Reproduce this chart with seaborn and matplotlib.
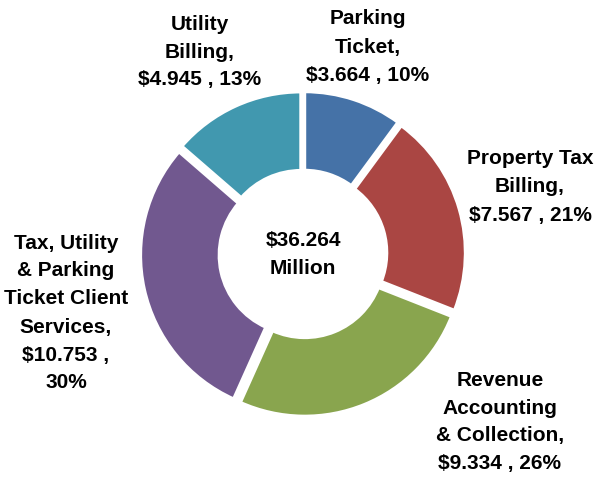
import matplotlib
matplotlib.use("Agg")
import matplotlib.pyplot as plt
import seaborn as sns
from matplotlib import font_manager

sns.set_theme(style="white")

names = [f.name for f in font_manager.fontManager.ttflist]
fam = "Liberation Sans Narrow" if "Liberation Sans Narrow" in names else "Liberation Sans"
plt.rcParams['font.family'] = [fam, 'DejaVu Sans']

categories = ["Parking Ticket", "Property Tax Billing", "Revenue Accounting & Collection",
              "Tax, Utility & Parking Ticket Client Services", "Utility Billing"]
values = [3.664, 7.567, 9.334, 10.753, 4.945]
percents = [10, 21, 26, 30, 13]
label_texts = ["Parking\nTicket,\n$3.664 , 10%",
               "Property Tax\nBilling,\n$7.567 , 21%",
               "Revenue\nAccounting\n& Collection,\n$9.334 , 26%",
               "Tax, Utility\n& Parking\nTicket Client\nServices,\n$10.753 ,\n30%",
               "Utility\nBilling,\n$4.945 , 13%"]
colors = ["#4572A7", "#AA4643", "#89A54E", "#71588F", "#4198AF"]
total_text = "$36.264\nMillion"

W, H = 596, 478
fig = plt.figure(figsize=(W / 100, H / 100), dpi=100)
cx, cy, R = 303, 254, 158
lim = 1.25
half = lim * R
ax = fig.add_axes([(cx - half) / W, (H - cy - half) / H, 2 * half / W, 2 * half / H])

ax.pie(values, colors=colors, startangle=90, counterclock=False,
       explode=[0.03] * len(values),
       wedgeprops=dict(width=0.5, edgecolor="white", linewidth=2.5))
ax.set_xlim(-lim, lim)
ax.set_ylim(-lim, lim)
ax.set_aspect("equal")
ax.axis("off")

# label centres in pixel coordinates (style/layout)
label_pos = [(368, 47), (530, 187), (500, 422), (66, 313), (200, 52)]
for txt, (px, py) in zip(label_texts, label_pos):
    ax.text((px - cx) / R, (cy - py) / R, txt, ha="center", va="center",
            fontsize=15, fontweight="bold", color="black", linespacing=1.6)

ax.text(0, 0, total_text, ha="center", va="center", fontsize=15,
        fontweight="bold", color="black", linespacing=1.6)

fig.savefig("out.png", dpi=100)
